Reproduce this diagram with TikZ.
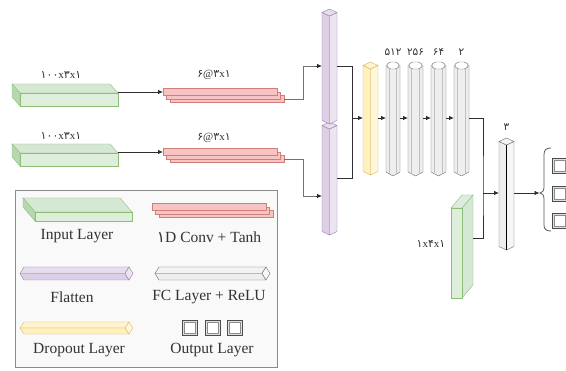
\documentclass[tikz,border=0pt]{standalone}
\usepackage{fontspec}
\setmainfont{Liberation Serif}
\newfontfamily\pfont{DejaVu Sans}
\usetikzlibrary{arrows.meta}

\definecolor{inTop}{HTML}{D5E8D4}
\definecolor{inFront}{HTML}{DDEEDB}
\definecolor{inSide}{HTML}{B7D7AF}
\definecolor{inEdge}{HTML}{8DBE77}
\definecolor{cvFill}{HTML}{F6C4C2}
\definecolor{cvEdge}{HTML}{CF7E7A}
\definecolor{flFill}{HTML}{DDD0E6}
\definecolor{flEdge}{HTML}{9D7DAD}
\definecolor{doFill}{HTML}{FFF0BE}
\definecolor{doEdge}{HTML}{D6B656}
\definecolor{fcFill}{HTML}{EEEEEE}
\definecolor{fcEdge}{HTML}{707070}
\definecolor{lineCol}{HTML}{2E2E2E}
\definecolor{legFrame}{HTML}{8C8C8C}
\definecolor{legFill}{HTML}{F9F9F9}
\definecolor{txtCol}{HTML}{333333}

% Persian digits
\newcommand\pd[1]{{\pfont #1}}

% flat 3-D slab: x0 y0 width dx dy height
\newcommand\Slab[6]{%
  \filldraw[draw=inEdge, fill=inTop] (#1,#2) -- ({#1+#3},#2) -- ({#1+#3+#4},{#2+#5}) -- ({#1+#4},{#2+#5}) -- cycle;
  \filldraw[draw=inEdge, fill=inSide] (#1,#2) -- ({#1+#4},{#2+#5}) -- ({#1+#4},{#2+#5+#6}) -- (#1,{#2+#6}) -- cycle;
  \filldraw[draw=inEdge, fill=inFront] ({#1+#4},{#2+#5}) rectangle ({#1+#3+#4},{#2+#5+#6});
}

% three stacked convolution maps
\newcommand\ConvStack[2]{%
  \foreach \k in {2,1,0}{%
    \filldraw[draw=cvEdge, fill=cvFill] ({#1+3.6*\k},{#2+3.8*\k}) rectangle ({#1+3.6*\k+114},{#2+3.8*\k+7});
  }%
}

% upright prism with rhombic top: xl xr ytop ybot fill edge
\newcommand\VPrism[6]{%
  \pgfmathsetmacro\pmid{(#1+#2)/2}%
  \filldraw[draw=#6, fill=#5] (#1,{#3+3.5}) -- (\pmid,{#3+7}) -- (\pmid,#4) -- (#1,{#4-3.5}) -- cycle;
  \filldraw[draw=#6, fill=#5!55!white] (\pmid,{#3+7}) -- (#2,{#3+3.5}) -- (#2,{#4-3.5}) -- (\pmid,#4) -- cycle;
  \filldraw[draw=#6, fill=#5!70!white] (#1,{#3+3.5}) -- (\pmid,#3) -- (#2,{#3+3.5}) -- (\pmid,{#3+7}) -- cycle;
}

% lying prism with rhombic right end: xl xr ytop ybot fill edge
\newcommand\HPrism[6]{%
  \pgfmathsetmacro\pmidy{(#3+#4)/2}%
  \filldraw[draw=#6, fill=#5!70!white] ({#1+4},#3) -- ({#2-4},#3) -- ({#2-8},\pmidy) -- (#1,\pmidy) -- cycle;
  \filldraw[draw=#6, fill=#5] (#1,\pmidy) -- ({#2-8},\pmidy) -- ({#2-4},#4) -- ({#1+4},#4) -- cycle;
  \filldraw[draw=#6, fill=#5!55!white] ({#2-4},#3) -- (#2,\pmidy) -- ({#2-4},#4) -- ({#2-8},\pmidy) -- cycle;
}

% fully connected column: xl xr ytop ybot
\newcommand\FCCol[4]{%
  \pgfmathsetmacro\pmid{(#1+#2)/2}%
  \filldraw[draw=fcEdge, fill=fcFill] (#1,{#3+3.5}) -- (#1,{#4-4}) -- (\pmid,#4) -- (#2,{#4-4}) -- (#2,{#3+3.5}) -- cycle;
  \draw[fcEdge!45!white] ({#1+3.5},{#3+7}) -- ({#1+3.5},{#4-2.1});
  \draw[fcEdge!45!white] ({#2-3.5},{#3+7}) -- ({#2-3.5},{#4-2.1});
  \filldraw[draw=fcEdge, fill=white, rounded corners=1.5pt] (#1,{#3+3.5}) -- ({#1+3.5},#3) -- ({#2-3.5},#3) -- (#2,{#3+3.5}) -- ({#2-3.5},{#3+7}) -- ({#1+3.5},{#3+7}) -- cycle;
}

% output class square
\newcommand\OutSq[2]{%
  \filldraw[draw=black!70, fill=black!12, line width=0.9pt] (#1,#2) rectangle ({#1+15.5},{#2+15.5});
  \filldraw[draw=black!45, fill=white, line width=0.6pt] ({#1+2.5},{#2+2.5}) rectangle ({#1+13},{#2+13});
}

\begin{document}
\begin{tikzpicture}[x=1pt,y=-1pt,
  conn/.style={draw=lineCol, line width=0.75pt},
  arr/.style={conn, -{Latex[length=5pt,width=4.5pt]}},
  lbl/.style={font=\fontsize{11}{12}\selectfont, text=txtCol, inner sep=0pt},
  leg/.style={font=\fontsize{15.5}{17}\selectfont, text=txtCol, inner sep=0pt}]
\useasboundingbox (0,0) rectangle (566,371);
\fill[white] (0,0) rectangle (566,371);

% ---------- two input branches ----------
\Slab{12}{84}{98}{8}{9}{13}
\Slab{12}{144}{98}{8}{9}{13}
\ConvStack{163}{88}
\ConvStack{163}{148}

\node[lbl] (inLabA) at (61,75) {\pd{۱۰۰}x\pd{۳}x\pd{۱}};
\node[lbl] (inLabB) at (61,136) {\pd{۱۰۰}x\pd{۳}x\pd{۱}};
\node[lbl] (cvLabA) at (214,75) {\pd{۶}@\pd{۳}x\pd{۱}};
\node[lbl] (cvLabB) at (214,138) {\pd{۶}@\pd{۳}x\pd{۱}};

% ---------- flatten ----------
\VPrism{322}{337}{122}{235}{flFill}{flEdge}
\VPrism{322}{337}{9}{124}{flFill}{flEdge}

% ---------- dropout and dense columns ----------
\VPrism{363}{378}{62}{175}{doFill}{doEdge}
\FCCol{386}{400}{62}{176}
\FCCol{408}{423}{62}{176}
\FCCol{431}{446}{62}{176}
\FCCol{454}{469}{62}{176}

\node[lbl, font=\fontsize{10.5}{12}\selectfont] (fcLabA) at (393,52) {\pd{۵۱۲}};
\node[lbl, font=\fontsize{10.5}{12}\selectfont] (fcLabB) at (415.5,52) {\pd{۲۵۶}};
\node[lbl, font=\fontsize{10.5}{12}\selectfont] (fcLabC) at (438.5,52) {\pd{۶۴}};
\node[lbl, font=\fontsize{10.5}{12}\selectfont] (fcLabD) at (461.5,52) {\pd{۲}};

% ---------- auxiliary input ----------
\filldraw[draw=inEdge, fill=inTop] (462,208) -- (473,195) -- (473,285) -- (462,298) -- cycle;
\filldraw[draw=inEdge, fill=inTop!80!white] (451,208) -- (462,195) -- (473,195) -- (462,208) -- cycle;
\filldraw[draw=inEdge, fill=inFront] (451,208) rectangle (462,298);
\node[lbl] (auxLab) at (431,244) {\pd{۱}x\pd{۴}x\pd{۱}};

% ---------- output column ----------
\VPrism{499}{514}{138}{250}{fcFill}{fcEdge}
\draw[black, line width=1.1pt] (506.5,145) -- (506.5,250);
\node[lbl, font=\fontsize{10.5}{12}\selectfont] (outLab) at (506.5,127) {\pd{۳}};

% brace and class squares
\draw[black!65, line width=0.8pt]
  (551,148) .. controls (546,148) and (544,150) .. (544,155) -- (544,187)
  .. controls (544,191) and (542,193) .. (540,193)
  .. controls (542,193) and (544,195) .. (544,199) -- (544,225)
  .. controls (544,229) and (546,231) .. (551,231);
\OutSq{552}{158}
\OutSq{552}{186}
\OutSq{552}{213}

% ---------- connectors ----------
\coordinate (inAE) at (118,92);  \coordinate (cvAW) at (163,92);
\coordinate (inBE) at (118,152); \coordinate (cvBW) at (163,152);
\coordinate (cvAE) at (284.2,99);  \coordinate (flAW) at (322,66);
\coordinate (cvBE) at (284.2,159); \coordinate (flBW) at (322,196);
\coordinate (flAE) at (337,66); \coordinate (flBE) at (337,178);
\coordinate (join) at (352,118);
\coordinate (doW) at (363,118); \coordinate (doE) at (378,118);
\coordinate (fAW) at (386,118); \coordinate (fAE) at (400,118);
\coordinate (fBW) at (408,118); \coordinate (fBE) at (423,118);
\coordinate (fCW) at (431,118); \coordinate (fCE) at (446,118);
\coordinate (fDW) at (454,118); \coordinate (fDE) at (469,118);
\coordinate (merge) at (483,193); \coordinate (auxE) at (473,238);
\coordinate (ocW) at (499,193); \coordinate (ocE) at (514,193);
\coordinate (brW) at (539.5,193);

\draw[arr] (inAE) -- (cvAW);
\draw[arr] (inBE) -- (cvBW);
\draw[conn, draw=black!55] (cvAE) -- ++(18.8,0) |- ([xshift=-6pt]flAW);
\draw[arr] ([xshift=-6pt]flAW) -- (flAW);
\draw[conn, draw=black!55] (cvBE) -- ++(18.8,0) |- ([xshift=-6pt]flBW);
\draw[arr] ([xshift=-6pt]flBW) -- (flBW);
\draw[conn] (flAE) -| (join);
\draw[conn] (flBE) -| (join);
\draw[arr] (join) -- (doW);
\draw[arr] (doE) -- (fAW);
\draw[arr] (fAE) -- (fBW);
\draw[arr] (fBE) -- (fCW);
\draw[arr] (fCE) -- (fDW);
\draw[conn] (fDE) -| (merge) |- (auxE);
\draw[arr] (merge) -- (ocW);
\draw[arr] (ocE) -- (brW);

% ---------- legend ----------
\filldraw[draw=legFrame, fill=legFill, line width=0.7pt] (15,190) rectangle (277,367);
\Slab{23}{198}{97}{12}{14}{9}
\ConvStack{152}{203}
\HPrism{20}{133}{267}{280}{flFill}{flEdge}
\HPrism{155}{270}{267}{280}{fcFill}{fcEdge}
\HPrism{20}{133}{322}{334}{doFill}{doEdge}
\OutSq{182}{320}
\OutSq{205}{320}
\OutSq{227}{320}

\node[leg] (legIn) at (77,236) {Input Layer};
\node[leg] (legCv) at (209,237) {\pd{۱}D Conv + Tanh};
\node[leg] (legFl) at (72,297) {Flatten};
\node[leg] (legFc) at (209,297) {FC Layer + ReLU};
\node[leg] (legDo) at (79,350) {Dropout Layer};
\node[leg] (legOut) at (212,350) {Output Layer};
\end{tikzpicture}
\end{document}
